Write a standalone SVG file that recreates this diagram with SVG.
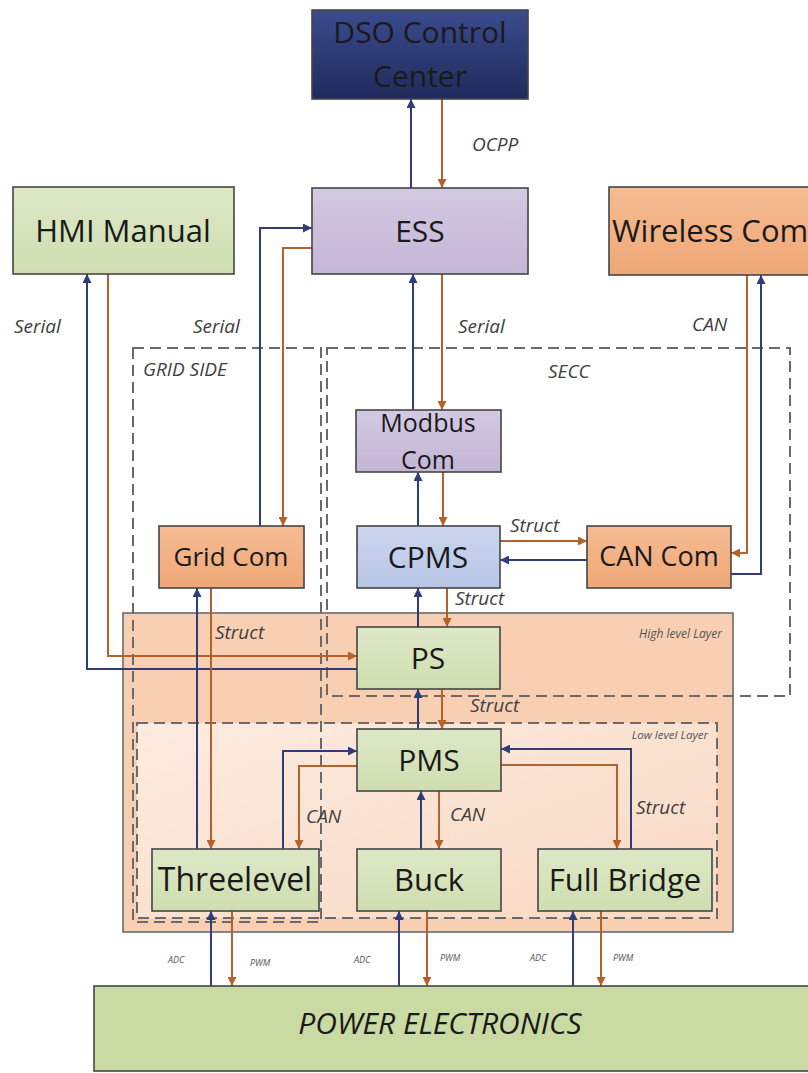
<svg xmlns="http://www.w3.org/2000/svg" width="808" height="1073" viewBox="0 0 808 1073">
  <defs>
    <linearGradient id="gDso" x1="0" y1="0" x2="0" y2="1">
      <stop offset="0" stop-color="#3b4b8e"/>
      <stop offset="1" stop-color="#1f2b5c"/>
    </linearGradient>
    <linearGradient id="gLav" x1="0" y1="0" x2="0" y2="1">
      <stop offset="0" stop-color="#d3c9e2"/>
      <stop offset="1" stop-color="#c3b6d6"/>
    </linearGradient>
    <linearGradient id="gGreen" x1="0" y1="0" x2="0" y2="1">
      <stop offset="0" stop-color="#dde8c6"/>
      <stop offset="1" stop-color="#cfdeb0"/>
    </linearGradient>
    <linearGradient id="gOrange" x1="0" y1="0" x2="0" y2="1">
      <stop offset="0" stop-color="#f6bb92"/>
      <stop offset="1" stop-color="#efa877"/>
    </linearGradient>
    <linearGradient id="gBlue" x1="0" y1="0" x2="0" y2="1">
      <stop offset="0" stop-color="#ccd6ef"/>
      <stop offset="1" stop-color="#b8c5e6"/>
    </linearGradient>
    <linearGradient id="gLow" x1="0" y1="0" x2="1" y2="1">
      <stop offset="0" stop-color="#fcebe0"/>
      <stop offset="1" stop-color="#f8d9c3"/>
    </linearGradient>
    <marker id="aBlue" viewBox="0 0 10 10" refX="10" refY="5" markerWidth="9" markerHeight="9" markerUnits="userSpaceOnUse" orient="auto">
      <path d="M0,0 L10,5 L0,10 z" fill="#2f3c78"/>
    </marker>
    <marker id="aBrown" viewBox="0 0 10 10" refX="10" refY="5" markerWidth="9" markerHeight="9" markerUnits="userSpaceOnUse" orient="auto">
      <path d="M0,0 L10,5 L0,10 z" fill="#b5622a"/>
    </marker>
  </defs>
  <style>
    .node { stroke: #454545; stroke-width: 1.6; }
    .ntext { font-family: "Open Sans", "Liberation Sans", sans-serif; fill: #1a1a1a; text-anchor: middle; }
    .ntext.left { text-anchor: start; }
    .lbl { font-family: "Open Sans", "Liberation Sans", sans-serif; font-style: italic; fill: #404040; font-size: 19px; }
    .small { font-family: "Open Sans", "Liberation Sans", sans-serif; font-style: italic; fill: #555555; }
    .dash { fill: none; stroke: #6a6a6a; stroke-width: 2; stroke-dasharray: 11 6; }
    .up { fill: none; stroke: #2f3c78; stroke-width: 2; marker-end: url(#aBlue); }
    .down { fill: none; stroke: #b5622a; stroke-width: 2; marker-end: url(#aBrown); }
  </style>

  <!-- layer panels -->
  <g id="high-level-layer">
    <rect x="123" y="613" width="610" height="319" fill="#f8cfb2" stroke="#6a6a6a" stroke-width="1.6"/>
    <text class="small" x="722" y="638" font-size="12" text-anchor="end">High level Layer</text>
  </g>
  <g id="low-level-layer">
    <rect x="137" y="723" width="580" height="195" fill="url(#gLow)"/>
    <rect x="137" y="723" width="580" height="195" class="dash"/>
    <text class="small" x="708" y="739" font-size="11.5" text-anchor="end">Low level Layer</text>
  </g>
  <g id="grid-side">
    <rect x="133" y="348" width="188" height="574" class="dash"/>
    <text class="lbl" x="143" y="376" font-size="17">GRID SIDE</text>
  </g>
  <g id="secc">
    <rect x="327" y="348" width="463" height="348" class="dash"/>
    <text class="lbl" x="548" y="378" font-size="17">SECC</text>
  </g>

  <!-- connectors -->
  <g id="connectors">
    <path class="up" d="M411,188 V99"/>
    <path class="down" d="M442,99 V188"/>
    <path class="up" d="M413,410 V274"/>
    <path class="down" d="M442,274 V410"/>
    <path class="up" d="M418,526 V472"/>
    <path class="down" d="M443,472 V526"/>
    <path class="up" d="M418,627 V588"/>
    <path class="down" d="M447,588 V627"/>
    <path class="up" d="M418,729 V689"/>
    <path class="down" d="M442,689 V729"/>
    <path class="up" d="M421,849 V791"/>
    <path class="down" d="M439,791 V849"/>
    <path class="up" d="M283,849 V751 H357"/>
    <path class="down" d="M357,766 H299 V849"/>
    <path class="down" d="M501,765 H617 V849"/>
    <path class="up" d="M631,849 V749 H501"/>
    <path class="down" d="M500,541 H587"/>
    <path class="up" d="M587,560 H500"/>
    <path class="down" d="M747,275 V553 H731"/>
    <path class="up" d="M731,574 H761 V275"/>
    <path class="up" d="M260,526 V228 H312"/>
    <path class="down" d="M312,248 H283 V526"/>
    <path class="up" d="M357,669 H87 V274"/>
    <path class="down" d="M108,274 V656 H357"/>
    <path class="up" d="M197,849 V588"/>
    <path class="down" d="M211,588 V849"/>
    <path class="up" d="M211,986 V911"/>
    <path class="down" d="M232,911 V986"/>
    <path class="up" d="M399,986 V911"/>
    <path class="down" d="M427,911 V986"/>
    <path class="up" d="M573,986 V911"/>
    <path class="down" d="M601,911 V986"/>

    <text class="lbl" x="472" y="151">OCPP</text>
    <text class="lbl" x="14" y="333">Serial</text>
    <text class="lbl" x="193" y="333">Serial</text>
    <text class="lbl" x="458" y="333">Serial</text>
    <text class="lbl" x="692" y="331">CAN</text>
    <text class="lbl" x="510" y="532">Struct</text>
    <text class="lbl" x="455" y="605">Struct</text>
    <text class="lbl" x="215" y="639">Struct</text>
    <text class="lbl" x="470" y="712">Struct</text>
    <text class="lbl" x="306" y="823">CAN</text>
    <text class="lbl" x="450" y="821">CAN</text>
    <text class="lbl" x="636" y="814">Struct</text>
    <text class="small" x="168" y="963" font-size="9">ADC</text>
    <text class="small" x="250" y="966" font-size="9">PWM</text>
    <text class="small" x="354" y="963" font-size="9">ADC</text>
    <text class="small" x="440" y="961" font-size="9">PWM</text>
    <text class="small" x="530" y="961" font-size="9">ADC</text>
    <text class="small" x="613" y="961" font-size="9">PWM</text>
  </g>

  <!-- nodes -->
  <g id="dso">
    <rect class="node" x="312" y="10" width="216" height="89" fill="url(#gDso)"/>
    <text class="ntext" x="420" y="43" font-size="30">DSO Control</text>
    <text class="ntext" x="420" y="87" font-size="30">Center</text>
  </g>
  <g id="ess">
    <rect class="node" x="312" y="188" width="216" height="86" fill="url(#gLav)"/>
    <text class="ntext" x="420" y="242" font-size="30">ESS</text>
  </g>
  <g id="hmi">
    <rect class="node" x="13" y="187" width="221" height="87" fill="url(#gGreen)"/>
    <text class="ntext" x="123" y="242" font-size="31">HMI Manual</text>
  </g>
  <g id="wireless">
    <rect class="node" x="609" y="187" width="230" height="88" fill="url(#gOrange)"/>
    <text class="ntext left" x="612" y="242" font-size="31">Wireless Com</text>
  </g>
  <g id="modbus">
    <rect class="node" x="356" y="410" width="145" height="62" fill="url(#gLav)"/>
    <text class="ntext" x="428" y="432" font-size="25">Modbus</text>
    <text class="ntext" x="428" y="469" font-size="25">Com</text>
  </g>
  <g id="gridcom">
    <rect class="node" x="159" y="526" width="145" height="62" fill="url(#gOrange)"/>
    <text class="ntext" x="231" y="566" font-size="26">Grid Com</text>
  </g>
  <g id="cpms">
    <rect class="node" x="357" y="526" width="143" height="62" fill="url(#gBlue)"/>
    <text class="ntext" x="428" y="568" font-size="30">CPMS</text>
  </g>
  <g id="cancom">
    <rect class="node" x="587" y="526" width="144" height="62" fill="url(#gOrange)"/>
    <text class="ntext" x="659" y="566" font-size="27">CAN Com</text>
  </g>
  <g id="ps">
    <rect class="node" x="357" y="627" width="143" height="62" fill="url(#gGreen)"/>
    <text class="ntext" x="428" y="669" font-size="30">PS</text>
  </g>
  <g id="pms">
    <rect class="node" x="357" y="729" width="144" height="62" fill="url(#gGreen)"/>
    <text class="ntext" x="429" y="771" font-size="30">PMS</text>
  </g>
  <g id="threelevel">
    <rect class="node" x="152" y="849" width="167" height="62" fill="url(#gGreen)"/>
    <text class="ntext" x="235" y="891" font-size="32">Threelevel</text>
  </g>
  <g id="buck">
    <rect class="node" x="357" y="849" width="144" height="62" fill="url(#gGreen)"/>
    <text class="ntext" x="429" y="891" font-size="31">Buck</text>
  </g>
  <g id="fullbridge">
    <rect class="node" x="538" y="849" width="174" height="62" fill="url(#gGreen)"/>
    <text class="ntext" x="625" y="891" font-size="31">Full Bridge</text>
  </g>
  <g id="power-electronics">
    <rect class="node" x="94" y="986" width="740" height="85" fill="#c9daa3"/>
    <text class="ntext" x="440" y="1034" font-size="30" font-style="italic">POWER ELECTRONICS</text>
  </g>
</svg>
